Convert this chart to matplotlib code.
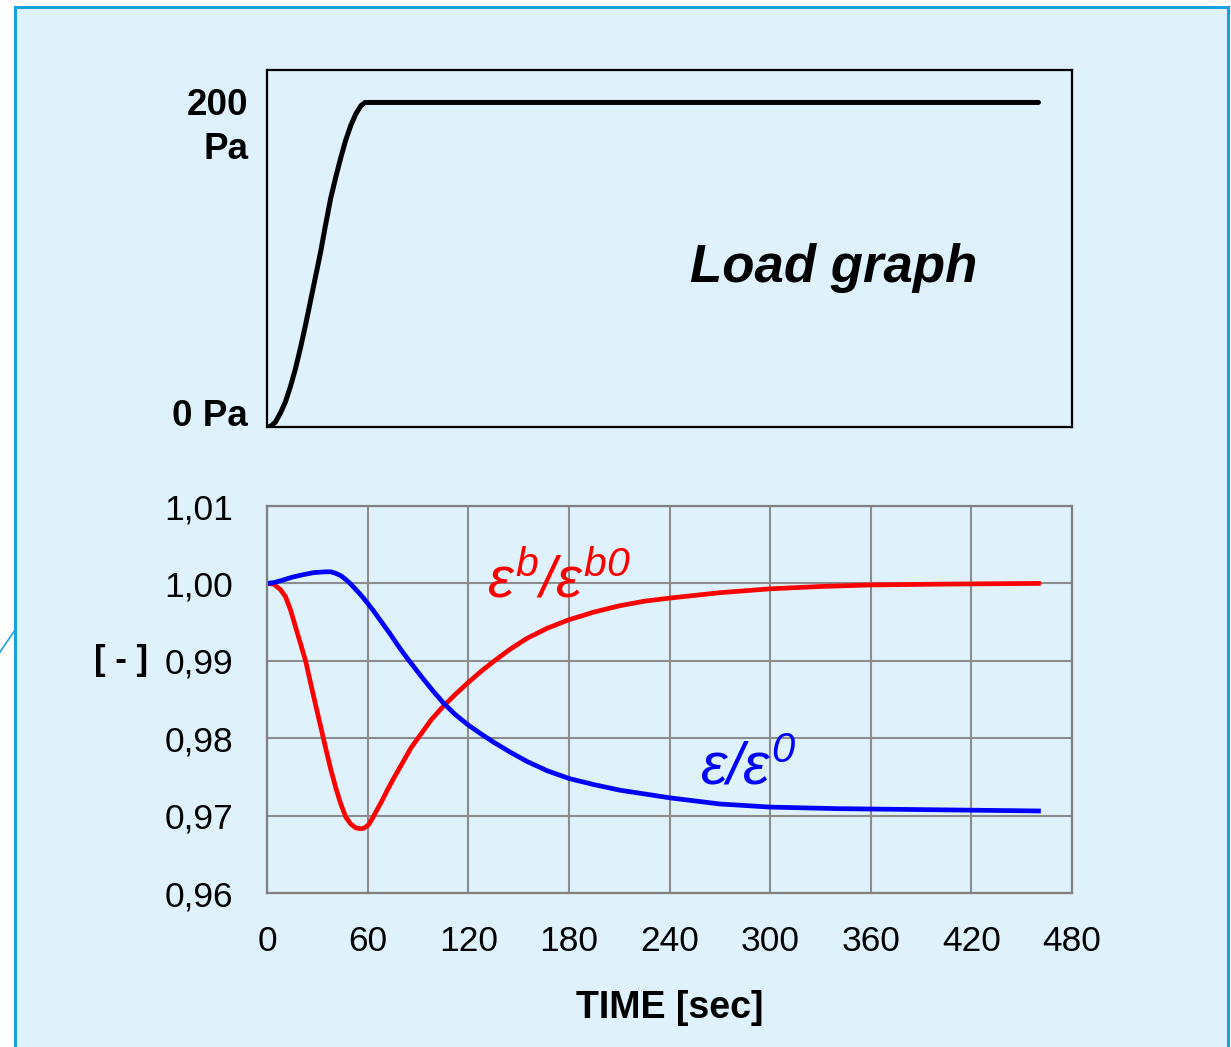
import matplotlib
matplotlib.use("Agg")
import matplotlib.pyplot as plt
from matplotlib.patches import Rectangle
from matplotlib.lines import Line2D

plt.rcParams["font.family"] = ["Liberation Sans", "DejaVu Sans"]
plt.rcParams["mathtext.fontset"] = "custom"
plt.rcParams["mathtext.rm"] = "Liberation Sans:italic"
plt.rcParams["mathtext.it"] = "Liberation Sans:italic"

# load graph (s, Pa)
load_t = [0, 2, 5, 8, 11, 14, 17, 20, 23, 26, 29, 32, 35, 38, 41, 44, 47,
          50, 53, 56, 58.5, 61, 460]
load_pa = [0, 0.3, 3, 8.6, 15.5, 25, 36, 49, 63, 78, 93, 108, 125, 141, 154,
           166, 177, 186, 193, 198, 200, 200, 200]
load_ticks = [0, 200]
load_labels = ["0 Pa", "200\nPa"]

# eps_b / eps_b0
t_b = [0, 4, 8, 11, 14, 17, 20, 23, 26, 29, 32, 35, 38, 41, 44, 47, 50, 53,
       56, 58, 60.5, 63, 66, 69, 72, 76, 80.5, 86, 92, 98, 105, 112, 120, 128,
       135, 145, 155, 167, 180, 195, 210, 225, 240, 270, 300, 330, 360, 400, 460]
eps_b = [1.0000, 0.9999, 0.9992, 0.9983, 0.9966, 0.9944, 0.9922, 0.9900,
         0.9871, 0.9843, 0.9815, 0.9787, 0.9760, 0.9736, 0.9715, 0.9698,
         0.9689, 0.9684, 0.9683, 0.9684, 0.9688, 0.9697, 0.9709, 0.9721,
         0.9734, 0.9750, 0.9767, 0.9788, 0.9806, 0.9824, 0.9841, 0.9856,
         0.9872, 0.9887, 0.9899, 0.9915, 0.9929, 0.9942, 0.9953, 0.9963,
         0.9971, 0.9977, 0.9981, 0.9988, 0.9993, 0.9996, 0.9998, 0.9999, 1.0000]

# eps / eps0
t_e = [0, 4, 9, 15, 21, 28, 35, 38, 41, 44, 47, 50, 53, 56, 59, 63, 68, 73,
       78, 83, 88, 93, 99, 105, 112, 120, 128, 135, 145, 155, 167, 180, 195,
       210, 225, 240, 270, 300, 340, 380, 420, 460]
eps = [1.0000, 1.0001, 1.0004, 1.0008, 1.0011, 1.0014, 1.0015, 1.0015,
       1.0013, 1.0010, 1.0005, 0.9999, 0.9992, 0.9985, 0.9977, 0.9966,
       0.9951, 0.9936, 0.9920, 0.9905, 0.9891, 0.9877, 0.9861, 0.9846,
       0.9831, 0.9817, 0.9805, 0.9795, 0.9782, 0.9770, 0.9758, 0.9748,
       0.9740, 0.9733, 0.9728, 0.9723, 0.9715, 0.9711, 0.9709, 0.9708,
       0.9707, 0.9706]

x_ticks = [0, 60, 120, 180, 240, 300, 360, 420, 480]
y_ticks = [0.96, 0.97, 0.98, 0.99, 1.00, 1.01]

W, H = 1231, 1047
fig = plt.figure(figsize=(W / 100, H / 100), dpi=100)
fig.patch.set_facecolor("white")

# light blue slide panel behind everything
fig.patches.append(Rectangle((15 / W, -0.01), 1213 / W, 1.01 - 6.5 / H,
                             transform=fig.transFigure, facecolor="#dff2fb",
                             edgecolor="#1ba1e2", linewidth=2.2, zorder=-5))
fig.lines.append(Line2D([0, 15 / W], [1 - 652 / H, 1 - 630 / H],
                        transform=fig.transFigure, color="#1ba1e2",
                        linewidth=1.2, zorder=-4))

ax1 = fig.add_axes([267 / W, 1 - 427 / H, 805 / W, 357 / H])
ax2 = fig.add_axes([267 / W, 1 - 893 / H, 805 / W, 387 / H])
for ax in (ax1, ax2):
    ax.set_facecolor("none")

# top: load graph
ax1.plot(load_t, load_pa, color="black", linewidth=3.6,
         solid_capstyle="round", solid_joinstyle="round")
ax1.set_xlim(0, 480)
ax1.set_ylim(0, 220)
ax1.set_xticks([])
ax1.set_yticks([])
for s in ax1.spines.values():
    s.set_color("black")
    s.set_linewidth(1.6)
ax1.annotate(load_labels[0], xy=(0, load_ticks[0]), xycoords=("axes fraction", "data"),
             xytext=(-19, 11), textcoords="offset pixels", ha="right", va="center",
             fontsize=26.5, fontweight="bold")
ax1.annotate(load_labels[1], xy=(0, load_ticks[1]), xycoords=("axes fraction", "data"),
             xytext=(-19, 14), textcoords="offset pixels", ha="right", va="top",
             fontsize=26.5, fontweight="bold", linespacing=1.32)
ax1.text(252, 98, "Load graph", fontsize=38, fontweight="bold", fontstyle="italic",
         ha="left", va="center")

# bottom: strain ratios
ax2.plot(t_b, eps_b, color="#ff0000", linewidth=3.4, solid_joinstyle="round")
ax2.plot(t_e, eps, color="#0000ff", linewidth=3.4, solid_joinstyle="round")
ax2.set_xlim(0, 480)
ax2.set_ylim(0.96, 1.01)
ax2.set_xticks(x_ticks)
ax2.set_yticks(y_ticks)
ax2.set_yticklabels([f"{v:.2f}".replace(".", ",") for v in y_ticks])
ax2.tick_params(length=0, labelsize=25.5)
ax2.tick_params(axis="y", pad=24.5)
ax2.tick_params(axis="x", pad=23)
ax2.grid(True, color="#8c8c8c", linewidth=1.5)
ax2.set_axisbelow(True)
for s in ax2.spines.values():
    s.set_color("#808080")
    s.set_linewidth(1.6)
ax2.set_xlabel("TIME [sec]", fontsize=27, fontweight="bold", labelpad=23)
ax2.annotate("[ - ]", xy=(0, 0.99), xycoords=("axes fraction", "data"),
             xytext=(-119, 0), textcoords="offset pixels", ha="right", va="center",
             fontsize=25, fontweight="bold")
ax2.text(131, 0.99827, r"$ε^{b}/ε^{b0}$", color="#ff0000", fontsize=42,
         ha="left", va="baseline")
ax2.text(258, 0.9740, r"$ε/ε^{0}$", color="#0000ff", fontsize=43,
         ha="left", va="baseline")

fig.savefig("out.png", dpi=100)
